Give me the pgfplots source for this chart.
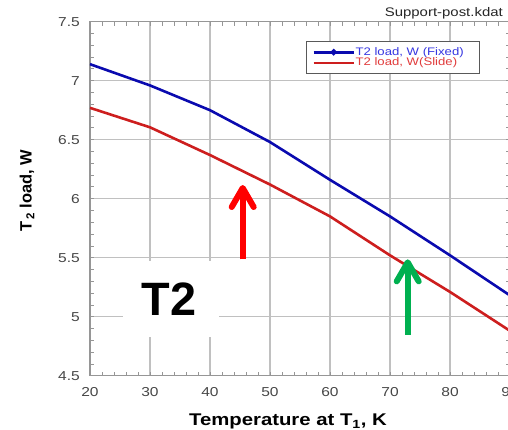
\documentclass[border=0pt]{standalone}
\usepackage{fontspec}
\setmainfont{Liberation Sans}
\newfontfamily\wide[FakeStretch=1.2]{Liberation Sans}
\usepackage{pgfplots}
\usepackage{pgfplotstable}
\pgfplotsset{compat=1.18}
\usetikzlibrary{arrows.meta}

\definecolor{fixedblue}{RGB}{10,10,175}
\definecolor{slidered}{RGB}{205,30,30}
\definecolor{legblue}{RGB}{55,55,225}
\definecolor{legred}{RGB}{225,60,60}
\definecolor{gridgray}{RGB}{192,192,192}
\definecolor{framegray}{RGB}{150,150,150}
\definecolor{ticktext}{RGB}{70,70,70}
\definecolor{arrowred}{RGB}{255,0,0}
\definecolor{arrowgreen}{RGB}{0,176,80}

% T2 heat load vs. temperature at T1 for the two support-post variants
\pgfplotstableread{
T   fixed  slide
20  7.14   6.77
30  6.96   6.605
40  6.75   6.37
50  6.48   6.12
60  6.16   5.85
70  5.85   5.52
80  5.52   5.21
90  5.18   4.88
}\loadtable

\begin{document}
\begin{tikzpicture}
\begin{axis}[
  scale only axis,
  width=420bp, height=354bp,
  xmin=20, xmax=90, ymin=4.5, ymax=7.5,
  xtick={20,30,40,50,60,70,80,90},
  ytick={4.5,5,5.5,6,6.5,7,7.5},
  minor x tick num=4, minor y tick num=4,
  grid=major,
  major grid style={line width=1.3bp, draw=gridgray},
  axis line style={line width=1.3bp, draw=framegray},
  tick style={line width=0.8bp, draw=framegray},
  tick align=inside,
  major tick length=4bp, minor tick length=4bp,
  /pgf/number format/assume math mode=true,
  tick label style={font=\wide\fontsize{13}{13}\selectfont, text=ticktext},
  xticklabel style={anchor=base, yshift=-20.6bp},
  yticklabel style={anchor=east, xshift=-10bp, inner sep=0pt},
  xlabel={Temperature at T\textsubscript{1}, K},
  xlabel style={at={(axis description cs:0.4714,-0.1412)}, anchor=base,
    font=\wide\bfseries\fontsize{17}{17}\selectfont},
  ylabel={T\textsubscript{\,2} load, W},
  ylabel style={at={(axis description cs:-0.1388,0.522)}, anchor=base,
    font=\bfseries\fontsize{16.5}{16.5}\selectfont},
  legend cell align=left,
  legend style={at={(0.514,0.946)}, anchor=north west,
    draw=black!65, line width=1bp, fill=white,
    inner xsep=6bp, inner ysep=5.5bp, row sep=0pt,
    font=\wide\fontsize{11}{11}\selectfont,
    nodes={inner sep=0.6bp, text height=7.6bp, text depth=2bp}},
]
% white patch behind the big label
\fill[white] (axis cs:25.5,4.828) rectangle (axis cs:41.5,5.475);
\node[font=\bfseries\fontsize{47}{47}\selectfont, inner sep=0pt]
  at (axis cs:33.17,5.15) {T2};

\addplot[fixedblue, line width=2.6bp, sharp plot,
  legend image code/.code={
    \draw[fixedblue, line width=2.6bp] (0bp,0bp) -- (40bp,0bp);
    \fill[fixedblue] (20bp,0bp) circle (1.7bp);}]
  table[x=T, y=fixed] {\loadtable};
\addlegendentry{\color{legblue}T2 load, W (Fixed)\rule{9bp}{0pt}}

\addplot[slidered, line width=2.6bp, sharp plot,
  legend image code/.code={
    \draw[slidered, line width=2.6bp] (0bp,0bp) -- (40bp,0bp);}]
  table[x=T, y=slide] {\loadtable};
\addlegendentry{\color{legred}T2 load, W(Slide)}

% pointers
\draw[arrowred, line width=6bp, -{Straight Barb[length=19bp, width=22bp, round]}]
  (axis cs:45.45,5.486) -- (axis cs:45.45,6.116);
\draw[arrowgreen, line width=6bp, -{Straight Barb[length=19bp, width=22bp, round]}]
  (axis cs:72.95,4.845) -- (axis cs:72.95,5.486);
\end{axis}
\node[anchor=east, inner sep=0pt, font=\wide\fontsize{12.5}{12.5}\selectfont, text=black!85]
  at (413bp,362.4bp) {Support-post.kdat};
\pgfresetboundingbox
\useasboundingbox (-90bp,-54.3bp) rectangle (418bp,375.7bp);
\end{tikzpicture}
\end{document}
